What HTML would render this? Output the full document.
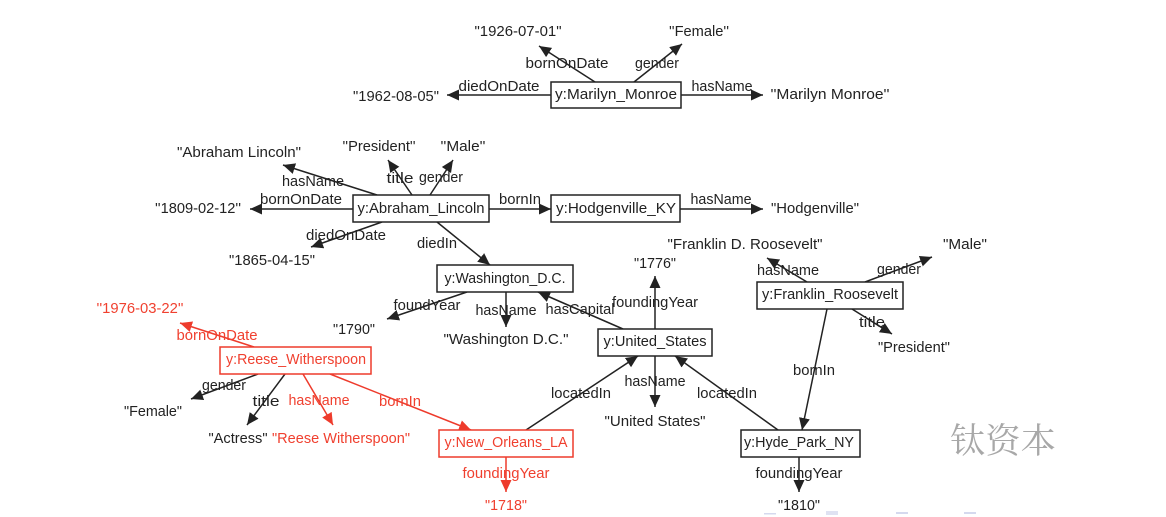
<!DOCTYPE html>
<html>
<head>
<meta charset="utf-8">
<style>
html,body{margin:0;padding:0;background:#fff;width:1166px;height:517px;overflow:hidden}
svg{display:block;filter:blur(0.35px)}
text{font-family:"Liberation Sans",sans-serif;font-size:14.5px;fill:#222;text-anchor:middle}
.r text{fill:#f0402f}
.e line{stroke:#222;stroke-width:1.5;marker-end:url(#a)}
.er line{stroke:#ee3b2c;stroke-width:1.5;marker-end:url(#b)}
rect{fill:#fff;stroke:#222;stroke-width:1.5}
rect.rr{stroke:#ee3b2c}
</style>
</head>
<body>
<svg width="1166" height="517" viewBox="0 0 1166 517" xmlns="http://www.w3.org/2000/svg">
<defs>
<marker id="a" markerUnits="userSpaceOnUse" markerWidth="13" markerHeight="12" refX="12" refY="6" orient="auto"><path d="M0 0.5L12 6L0 11.5Z" fill="#222"/></marker>
<marker id="b" markerUnits="userSpaceOnUse" markerWidth="13" markerHeight="12" refX="12" refY="6" orient="auto"><path d="M0 0.5L12 6L0 11.5Z" fill="#ee3b2c"/></marker>
</defs>
<g class="e">
<line x1="595" y1="82" x2="539" y2="46"/>
<line x1="634" y1="82" x2="682" y2="44"/>
<line x1="551" y1="95" x2="447" y2="95"/>
<line x1="681" y1="95" x2="763" y2="95"/>
<line x1="377" y1="195" x2="283" y2="165"/>
<line x1="412" y1="195" x2="388" y2="160"/>
<line x1="430" y1="195" x2="453" y2="160"/>
<line x1="353" y1="209" x2="250" y2="209"/>
<line x1="382" y1="222" x2="311" y2="247"/>
<line x1="437" y1="222" x2="490" y2="265"/>
<line x1="489" y1="209" x2="551" y2="209"/>
<line x1="680" y1="209" x2="763" y2="209"/>
<line x1="467" y1="292" x2="387" y2="319"/>
<line x1="506" y1="292" x2="506" y2="327"/>
<line x1="623" y1="329" x2="538" y2="292"/>
<line x1="655" y1="329" x2="655" y2="276"/>
<line x1="655" y1="356" x2="655" y2="407"/>
<line x1="526" y1="430" x2="638" y2="356"/>
<line x1="778" y1="430" x2="675" y2="356"/>
<line x1="807" y1="282" x2="767" y2="258"/>
<line x1="865" y1="282" x2="932" y2="257"/>
<line x1="852" y1="309" x2="892" y2="334"/>
<line x1="827" y1="309" x2="802" y2="430"/>
<line x1="799" y1="457" x2="799" y2="492"/>
<line x1="258" y1="374" x2="191" y2="399"/>
<line x1="285" y1="374" x2="247" y2="425"/>
</g>
<g class="er">
<line x1="254" y1="347" x2="180" y2="323"/>
<line x1="303" y1="374" x2="333" y2="425"/>
<line x1="330" y1="374" x2="471" y2="430"/>
<line x1="506" y1="457" x2="506" y2="492"/>
</g>
<rect x="551" y="82" width="130" height="26"/>
<rect x="353" y="195" width="136" height="27"/>
<rect x="551" y="195" width="129" height="27"/>
<rect x="437" y="265" width="136" height="27"/>
<rect x="757" y="282" width="146" height="27"/>
<rect x="598" y="329" width="114" height="27"/>
<rect class="rr" x="220" y="347" width="151" height="27"/>
<rect class="rr" x="439" y="430" width="134" height="27"/>
<rect x="741" y="430" width="119" height="27"/>
<g>
<text x="518" y="36" textLength="87" lengthAdjust="spacingAndGlyphs">"1926-07-01"</text>
<text x="699" y="36" textLength="60" lengthAdjust="spacingAndGlyphs">''Female''</text>
<text x="567" y="68" textLength="83" lengthAdjust="spacingAndGlyphs">bornOnDate</text>
<text x="657" y="68" textLength="44" lengthAdjust="spacingAndGlyphs">gender</text>
<text x="396" y="101" textLength="86" lengthAdjust="spacingAndGlyphs">"1962-08-05"</text>
<text x="499" y="91" textLength="81" lengthAdjust="spacingAndGlyphs">diedOnDate</text>
<text x="722" y="91" textLength="61" lengthAdjust="spacingAndGlyphs">hasName</text>
<text x="830" y="99" textLength="119" lengthAdjust="spacingAndGlyphs">''Marilyn Monroe''</text>
<text x="616" y="99" textLength="122" lengthAdjust="spacingAndGlyphs">y:Marilyn_Monroe</text>
<text x="239" y="157" textLength="124" lengthAdjust="spacingAndGlyphs">"Abraham Lincoln"</text>
<text x="379" y="151" textLength="73" lengthAdjust="spacingAndGlyphs">''President''</text>
<text x="463" y="151" textLength="45" lengthAdjust="spacingAndGlyphs">''Male''</text>
<text x="313" y="186" textLength="62" lengthAdjust="spacingAndGlyphs">hasName</text>
<text x="400" y="183" textLength="27" lengthAdjust="spacingAndGlyphs">title</text>
<text x="441" y="182" textLength="44" lengthAdjust="spacingAndGlyphs">gender</text>
<text x="198" y="213" textLength="86" lengthAdjust="spacingAndGlyphs">''1809-02-12''</text>
<text x="301" y="204" textLength="82" lengthAdjust="spacingAndGlyphs">bornOnDate</text>
<text x="421" y="213" textLength="127" lengthAdjust="spacingAndGlyphs">y:Abraham_Lincoln</text>
<text x="520" y="204" textLength="42" lengthAdjust="spacingAndGlyphs">bornIn</text>
<text x="616" y="213" textLength="120" lengthAdjust="spacingAndGlyphs">y:Hodgenville_KY</text>
<text x="721" y="204" textLength="61" lengthAdjust="spacingAndGlyphs">hasName</text>
<text x="815" y="213" textLength="88" lengthAdjust="spacingAndGlyphs">"Hodgenville"</text>
<text x="346" y="240" textLength="80" lengthAdjust="spacingAndGlyphs">diedOnDate</text>
<text x="272" y="265" textLength="86" lengthAdjust="spacingAndGlyphs">"1865-04-15"</text>
<text x="437" y="248" textLength="40" lengthAdjust="spacingAndGlyphs">diedIn</text>
<text x="745" y="249" textLength="155" lengthAdjust="spacingAndGlyphs">"Franklin D. Roosevelt"</text>
<text x="965" y="249" textLength="44" lengthAdjust="spacingAndGlyphs">"Male"</text>
<text x="655" y="268" textLength="42" lengthAdjust="spacingAndGlyphs">"1776"</text>
<text x="788" y="275" textLength="62" lengthAdjust="spacingAndGlyphs">hasName</text>
<text x="899" y="274" textLength="44" lengthAdjust="spacingAndGlyphs">gender</text>
<text x="505" y="283" textLength="121" lengthAdjust="spacingAndGlyphs">y:Washington_D.C.</text>
<text x="830" y="299" textLength="136" lengthAdjust="spacingAndGlyphs">y:Franklin_Roosevelt</text>
<text x="655" y="307" textLength="86" lengthAdjust="spacingAndGlyphs">foundingYear</text>
<text x="427" y="310" textLength="67" lengthAdjust="spacingAndGlyphs">foundYear</text>
<text x="506" y="315" textLength="61" lengthAdjust="spacingAndGlyphs">hasName</text>
<text x="580" y="314" textLength="69" lengthAdjust="spacingAndGlyphs">hasCapital</text>
<text x="354" y="334" textLength="42" lengthAdjust="spacingAndGlyphs">"1790"</text>
<text x="506" y="344" textLength="125" lengthAdjust="spacingAndGlyphs">"Washington D.C."</text>
<text x="872" y="327" textLength="26" lengthAdjust="spacingAndGlyphs">title</text>
<text x="914" y="352" textLength="72" lengthAdjust="spacingAndGlyphs">"President"</text>
<text x="655" y="346" textLength="103" lengthAdjust="spacingAndGlyphs">y:United_States</text>
<text x="814" y="375" textLength="42" lengthAdjust="spacingAndGlyphs">bornIn</text>
<text x="224" y="390" textLength="44" lengthAdjust="spacingAndGlyphs">gender</text>
<text x="266" y="406" textLength="27" lengthAdjust="spacingAndGlyphs">title</text>
<text x="581" y="398" textLength="60" lengthAdjust="spacingAndGlyphs">locatedIn</text>
<text x="655" y="386" textLength="61" lengthAdjust="spacingAndGlyphs">hasName</text>
<text x="727" y="398" textLength="60" lengthAdjust="spacingAndGlyphs">locatedIn</text>
<text x="153" y="416" textLength="58" lengthAdjust="spacingAndGlyphs">"Female"</text>
<text x="238" y="443" textLength="59" lengthAdjust="spacingAndGlyphs">"Actress"</text>
<text x="655" y="426" textLength="101" lengthAdjust="spacingAndGlyphs">"United States"</text>
<text x="799" y="447" textLength="110" lengthAdjust="spacingAndGlyphs">y:Hyde_Park_NY</text>
<text x="799" y="478" textLength="87" lengthAdjust="spacingAndGlyphs">foundingYear</text>
<text x="799" y="510" textLength="42" lengthAdjust="spacingAndGlyphs">"1810"</text>
</g>
<g class="r">
<text x="140" y="313" textLength="87" lengthAdjust="spacingAndGlyphs">''1976-03-22''</text>
<text x="217" y="340" textLength="81" lengthAdjust="spacingAndGlyphs">bornOnDate</text>
<text x="296" y="364" textLength="140" lengthAdjust="spacingAndGlyphs">y:Reese_Witherspoon</text>
<text x="319" y="405" textLength="61" lengthAdjust="spacingAndGlyphs">hasName</text>
<text x="400" y="406" textLength="42" lengthAdjust="spacingAndGlyphs">bornIn</text>
<text x="341" y="443" textLength="138" lengthAdjust="spacingAndGlyphs">"Reese Witherspoon"</text>
<text x="506" y="447" textLength="123" lengthAdjust="spacingAndGlyphs">y:New_Orleans_LA</text>
<text x="506" y="478" textLength="87" lengthAdjust="spacingAndGlyphs">foundingYear</text>
<text x="506" y="510" textLength="42" lengthAdjust="spacingAndGlyphs">"1718"</text>
</g>
<text x="1003" y="453" style="font-family:'Noto Serif CJK SC','Noto Sans CJK SC',sans-serif;font-size:35px;fill:#a8a8a8" textLength="106" lengthAdjust="spacingAndGlyphs">钛资本</text>
<rect x="764" y="513" width="12" height="1.5" style="fill:#d5d9ee;stroke:none"/>
<rect x="826" y="511" width="12" height="4" style="fill:#dfe2f2;stroke:none"/>
<rect x="896" y="512" width="12" height="2" style="fill:#d5d9ee;stroke:none"/>
<rect x="964" y="512" width="12" height="2" style="fill:#d5d9ee;stroke:none"/>
</svg>
</body>
</html>
